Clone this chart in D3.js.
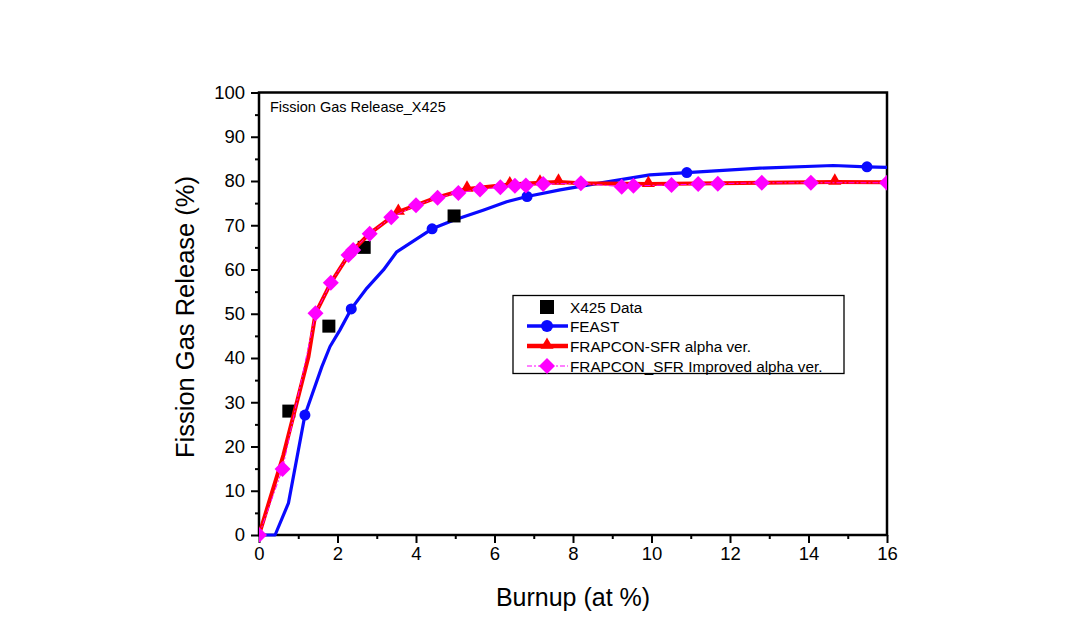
<!DOCTYPE html>
<html>
<head>
<meta charset="utf-8">
<script src="https://cdn.jsdelivr.net/npm/d3@7.9.0/dist/d3.min.js"></script>
<style>
  body { margin: 0; background: #fff; }
  svg { display: block; font-family: "Liberation Sans", Arial, sans-serif; }
</style>
</head>
<body>
<svg id="chart" width="1074" height="635"></svg>
<script>
// X425 measured data
const dataX = [0.76, 1.78, 2.68, 4.97];
const dataY = [28.0, 47.2, 65.0, 72.1];

// FEAST line points, markers only on some of them
const feastX = [0, 0.41, 0.75, 1.17, 1.6, 1.81, 2.06, 2.35, 2.75, 3.17, 3.51, 4.41, 4.97, 5.71, 6.31, 6.83, 7.67, 8.52, 9.96, 10.9, 12.76, 14.63, 15.49, 16];
const feastY = [0, 0, 7.2, 27.1, 38.0, 42.6, 46.3, 51.1, 55.8, 59.9, 64.0, 69.2, 71.2, 73.4, 75.3, 76.5, 78.0, 79.3, 81.4, 81.9, 82.9, 83.5, 83.2, 83.1];
const feastMarks = [3, 7, 11, 15, 19, 22];

// FRAPCON-SFR alpha ver.
const redX = [0, 0.62, 1.26, 1.44, 1.83, 2.3, 2.8, 3.55, 4.5, 5.3, 6.39, 7.16, 7.63, 8.2, 9.92, 11.7, 14.67, 16];
const redY = [0, 18.0, 40.3, 50.1, 57.0, 63.5, 68.0, 73.0, 76.2, 78.2, 79.2, 79.6, 79.8, 79.5, 79.3, 79.5, 79.8, 79.7];
const redMarks = [7, 9, 10, 11, 12, 14, 16];

// FRAPCON_SFR Improved alpha ver.
const magX = [0, 0.6, 1.44, 1.83, 2.28, 2.4, 2.82, 3.37, 4.0, 4.55, 5.08, 5.63, 6.15, 6.52, 6.8, 7.24, 8.2, 9.24, 9.54, 10.51, 11.19, 11.69, 12.81, 14.06, 16.0];
const magY = [0, 14.9, 50.1, 57.0, 63.3, 64.4, 68.1, 71.8, 74.5, 76.2, 77.3, 78.1, 78.6, 78.9, 79.0, 79.3, 79.5, 78.7, 78.9, 79.1, 79.3, 79.4, 79.6, 79.6, 79.6];

const xTicks = [0, 2, 4, 6, 8, 10, 12, 14, 16];
const yTicks = [0, 10, 20, 30, 40, 50, 60, 70, 80, 90, 100];
const legendLabels = ["X425 Data", "FEAST", "FRAPCON-SFR alpha ver.", "FRAPCON_SFR Improved alpha ver."];

const svg = d3.select("#chart");
const pLeft = 259, pRight = 887, pTop = 92.5, pBottom = 535;

const x = d3.scaleLinear().domain([0, 16]).range([pLeft, pRight]);
const y = d3.scaleLinear().domain([0, 100]).range([pBottom, pTop]);

svg.append("defs").append("clipPath").attr("id", "clip")
  .append("rect").attr("x", pLeft).attr("y", pTop - 10).attr("width", pRight - pLeft).attr("height", pBottom - pTop + 20);

// axes
svg.append("g").attr("transform", `translate(0,${pBottom})`)
  .call(d3.axisBottom(x).tickValues(xTicks).tickSize(8).tickPadding(4).tickFormat(d3.format("d")));
svg.append("g").attr("transform", `translate(0,${pBottom})`)
  .call(d3.axisBottom(x).tickValues(d3.range(1, 16, 2)).tickSize(4).tickFormat(""));
svg.append("g").attr("transform", `translate(${pLeft},0)`)
  .call(d3.axisLeft(y).tickValues(yTicks).tickSize(8).tickPadding(6));
svg.append("g").attr("transform", `translate(${pLeft},0)`)
  .call(d3.axisLeft(y).tickValues(d3.range(5, 100, 10)).tickSize(4).tickFormat(""));

svg.selectAll(".domain").remove();
svg.selectAll(".tick line").attr("stroke", "#000").attr("stroke-width", 2);
svg.selectAll(".tick text").attr("font-size", 18.5).attr("fill", "#000")
  .attr("font-family", "Liberation Sans, Arial, sans-serif");

svg.append("rect").attr("x", pLeft).attr("y", pTop)
  .attr("width", pRight - pLeft).attr("height", pBottom - pTop)
  .attr("fill", "none").attr("stroke", "#000").attr("stroke-width", 2.5);

// axis titles
svg.append("text").attr("x", 573).attr("y", 606)
  .attr("text-anchor", "middle").attr("font-size", 25).text("Burnup (at %)");
svg.append("text").attr("transform", `translate(194,317) rotate(-90)`)
  .attr("text-anchor", "middle").attr("font-size", 25.5).text("Fission Gas Release (%)");

svg.append("text").attr("x", 270).attr("y", 112).attr("font-size", 14.5).text("Fission Gas Release_X425");

const line = d3.line().x(d => x(d[0])).y(d => y(d[1]));
const feast = feastX.map((v, i) => [v, feastY[i]]);
const red = redX.map((v, i) => [v, redY[i]]);
const mag = magX.map((v, i) => [v, magY[i]]);

const g = svg.append("g").attr("clip-path", "url(#clip)");

// FEAST
g.append("path").attr("d", line(feast)).attr("fill", "none")
  .attr("stroke", "#0a0aff").attr("stroke-width", 3.2).attr("stroke-linejoin", "round");
g.selectAll(".feast").data(feastMarks.map(i => feast[i])).enter().append("circle")
  .attr("cx", d => x(d[0])).attr("cy", d => y(d[1])).attr("r", 5.5).attr("fill", "#0a0aff");

// X425 data squares
g.selectAll(".sq").data(dataX.map((v, i) => [v, dataY[i]])).enter().append("rect")
  .attr("x", d => x(d[0]) - 6.5).attr("y", d => y(d[1]) - 6.5)
  .attr("width", 13).attr("height", 13).attr("fill", "#000");

// FRAPCON-SFR alpha
g.append("path").attr("d", line(red)).attr("fill", "none")
  .attr("stroke", "#ff0000").attr("stroke-width", 4).attr("stroke-linejoin", "round");
const tri = d3.symbol().type(d3.symbolTriangle).size(75);
g.selectAll(".tri").data(redMarks.map(i => red[i])).enter().append("path")
  .attr("d", tri).attr("transform", d => `translate(${x(d[0])},${y(d[1]) - 1})`).attr("fill", "#ff0000");

// FRAPCON_SFR improved
g.append("path").attr("d", line(mag)).attr("fill", "none")
  .attr("stroke", "#ff00ff").attr("stroke-width", 1).attr("stroke-dasharray", "6,2,2,2");
const diamond = () => "M0,-8L8,0L0,8L-8,0Z";
g.selectAll(".dia").data(mag).enter().append("path")
  .attr("d", diamond).attr("transform", d => `translate(${x(d[0])},${y(d[1])})`).attr("fill", "#ff00ff");

// legend
const lg = svg.append("g");
lg.append("rect").attr("x", 513).attr("y", 295.5).attr("width", 331).attr("height", 78)
  .attr("fill", "#fff").attr("stroke", "#000").attr("stroke-width", 1.3);
const rows = [307, 326, 346, 366];
legendLabels.forEach((lab, i) => {
  const ry = rows[i];
  const cx = 547;
  if (i === 0) {
    lg.append("rect").attr("x", cx - 7).attr("y", ry - 7).attr("width", 14).attr("height", 14).attr("fill", "#000");
  } else if (i === 1) {
    lg.append("line").attr("x1", 527).attr("x2", 568).attr("y1", ry).attr("y2", ry)
      .attr("stroke", "#0a0aff").attr("stroke-width", 3.5);
    lg.append("circle").attr("cx", cx).attr("cy", ry).attr("r", 6).attr("fill", "#0a0aff");
  } else if (i === 2) {
    lg.append("line").attr("x1", 527).attr("x2", 568).attr("y1", ry).attr("y2", ry)
      .attr("stroke", "#ff0000").attr("stroke-width", 4.5);
    lg.append("path").attr("d", tri).attr("transform", `translate(${cx},${ry - 1})`).attr("fill", "#ff0000");
  } else {
    lg.append("line").attr("x1", 527).attr("x2", 568).attr("y1", ry).attr("y2", ry)
      .attr("stroke", "#ff00ff").attr("stroke-width", 1).attr("stroke-dasharray", "5,2,2,2");
    lg.append("path").attr("d", diamond).attr("transform", `translate(${cx},${ry})`).attr("fill", "#ff00ff");
  }
  lg.append("text").attr("x", 570).attr("y", ry + 5.5).attr("font-size", 15.3).text(lab);
});
</script>
</body>
</html>
